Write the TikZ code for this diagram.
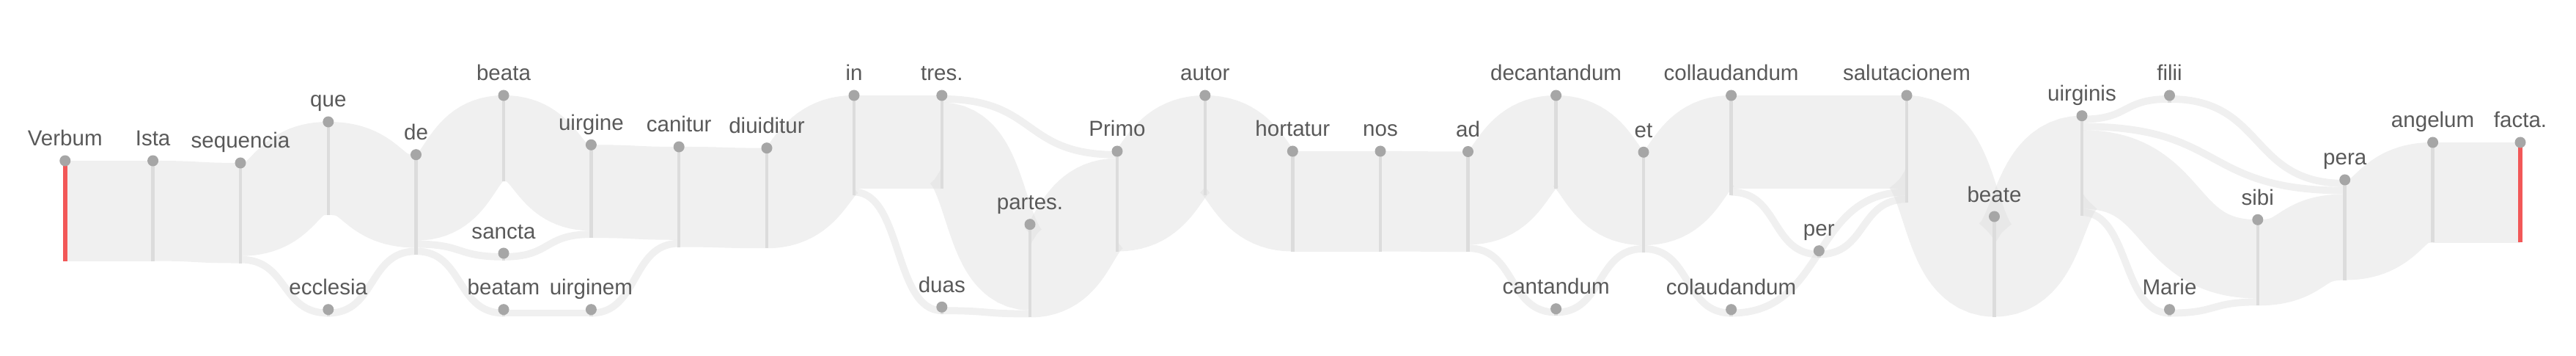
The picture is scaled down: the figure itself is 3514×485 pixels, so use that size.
\documentclass[tikz,border=0pt]{standalone}
\usepackage{fontspec}
\setmainfont{Liberation Sans}
\usetikzlibrary{calc}
\definecolor{barc}{HTML}{DCDCDC}
\definecolor{dotc}{HTML}{A6A6A6}
\definecolor{txtc}{HTML}{595959}
\definecolor{redc}{HTML}{F25858}
\definecolor{flowc}{HTML}{E1E1E1}
\pgfdeclarelayer{flows}
\pgfdeclarelayer{bars}
\pgfsetlayers{flows,bars,main}
\tikzset{
  dotst/.style={circle, fill=dotc, inner sep=0pt, minimum size=0.15cm},
  lblst/.style={text=txtc, font=\fontsize{8.4}{10}\selectfont, inner sep=0pt},
  barst/.style={draw=barc, line width=0.045cm},
  redbar/.style={draw=redc, line width=0.055cm},
  flowst/.style={draw=flowc, draw opacity=0.5},
}
% name, x, y(top), units, label, bar style
\newcommand\wnode[6]{%
  \node[dotst] (#1) at (#2,#3) {};
  \begin{pgfonlayer}{bars}\draw[#6] (#1.center) -- ++(0,{#4*9.75});\end{pgfonlayer}
  \node[lblst, anchor=base] (#1-l) at ($(#1)+(0,-20)$) {#5};
}
% source, source offset, target, target offset, units
\newcommand\flw[5]{%
  \begin{pgfonlayer}{flows}
  \draw[flowst, line width=#5*0.0975cm]
    let \p1=($(#1)+(0,{(#2+#5/2)*9.75})$), \p2=($(#3)+(0,{(#4+#5/2)*9.75})$) in
    (\p1) .. controls ({\x1+0.55*(\x2-\x1)},\y1) and ({\x2-0.55*(\x2-\x1)},\y2) .. (\p2);
  \end{pgfonlayer}
}
\begin{document}
\begin{tikzpicture}[x=0.01cm,y=-0.01cm]
\useasboundingbox (0,0) rectangle (3514,485);
\wnode{Verbum}{88.8}{219}{14}{Verbum}{redbar}
\wnode{Ista}{208.6}{219}{14}{Ista}{barst}
\wnode{sequencia}{328}{222}{14}{sequencia}{barst}
\wnode{que}{447.8}{166}{13}{que}{barst}
\wnode{ecclesia}{447.8}{421.7}{1}{ecclesia}{barst}
\wnode{de}{567.5}{210.7}{14}{de}{barst}
\wnode{beata}{687}{130}{12}{beata}{barst}
\wnode{sancta}{687}{345}{1}{sancta}{barst}
\wnode{beatam}{687}{421.7}{1}{beatam}{barst}
\wnode{uirgine}{806.4}{197.3}{13}{uirgine}{barst}
\wnode{uirginem}{806.4}{421.7}{1}{uirginem}{barst}
\wnode{canitur}{926.2}{200}{14}{canitur}{barst}
\wnode{diuiditur}{1046}{201.7}{14}{diuiditur}{barst}
\wnode{in}{1165}{130}{14}{in}{barst}
\wnode{tres}{1284.8}{130}{13}{tres.}{barst}
\wnode{duas}{1284.8}{418.3}{1}{duas}{barst}
\wnode{partes}{1405}{305.7}{13}{partes.}{barst}
\wnode{Primo}{1524}{206}{14}{Primo}{barst}
\wnode{autor}{1643.8}{130}{14}{autor}{barst}
\wnode{hortatur}{1763.3}{206}{14}{hortatur}{barst}
\wnode{nos}{1883}{206}{14}{nos}{barst}
\wnode{ad}{2002.5}{206.5}{14}{ad}{barst}
\wnode{decantandum}{2122.6}{130}{13}{decantandum}{barst}
\wnode{cantandum}{2122.6}{420.7}{1}{cantandum}{barst}
\wnode{et}{2242}{207.3}{14}{et}{barst}
\wnode{collaudandum}{2361.6}{130}{14}{collaudandum}{barst}
\wnode{colaudandum}{2361.6}{421.7}{1}{colaudandum}{barst}
\wnode{per}{2481.3}{341.7}{1}{per}{barst}
\wnode{salutacionem}{2601}{130}{15}{salutacionem}{barst}
\wnode{beate}{2720.5}{295}{14}{beate}{barst}
\wnode{uirginis}{2840}{157.7}{14}{uirginis}{barst}
\wnode{filii}{2959.5}{130}{1}{filii}{barst}
\wnode{Marie}{2959.5}{421.7}{1}{Marie}{barst}
\wnode{sibi}{3079.8}{299.3}{12}{sibi}{barst}
\wnode{pera}{3198.7}{245}{14}{pera}{barst}
\wnode{angelum}{3318.6}{194}{14}{angelum}{barst}
\wnode{facta}{3438}{194}{14}{facta.}{redbar}
\flw{Verbum}{0}{Ista}{0}{14}
\flw{Ista}{0}{sequencia}{0}{14}
\flw{sequencia}{0}{que}{0}{13}
\flw{sequencia}{13}{ecclesia}{0}{1}
\flw{que}{0}{de}{0}{13}
\flw{ecclesia}{0}{de}{13}{1}
\flw{de}{0}{beata}{0}{12}
\flw{de}{12}{sancta}{0}{1}
\flw{de}{13}{beatam}{0}{1}
\flw{beata}{0}{uirgine}{0}{12}
\flw{sancta}{0}{uirgine}{12}{1}
\flw{beatam}{0}{uirginem}{0}{1}
\flw{uirgine}{0}{canitur}{0}{13}
\flw{uirginem}{0}{canitur}{13}{1}
\flw{canitur}{0}{diuiditur}{0}{14}
\flw{diuiditur}{0}{in}{0}{14}
\flw{in}{0}{tres}{0}{13}
\flw{in}{13}{duas}{0}{1}
\flw{tres}{0}{Primo}{0}{1}
\flw{tres}{1}{partes}{0}{12}
\flw{duas}{0}{partes}{12}{1}
\flw{partes}{0}{Primo}{1}{13}
\flw{Primo}{0}{autor}{0}{14}
\flw{autor}{0}{hortatur}{0}{14}
\flw{hortatur}{0}{nos}{0}{14}
\flw{nos}{0}{ad}{0}{14}
\flw{ad}{0}{decantandum}{0}{13}
\flw{ad}{13}{cantandum}{0}{1}
\flw{decantandum}{0}{et}{0}{13}
\flw{cantandum}{0}{et}{13}{1}
\flw{et}{0}{collaudandum}{0}{13}
\flw{et}{13}{colaudandum}{0}{1}
\flw{collaudandum}{0}{salutacionem}{0}{13}
\flw{collaudandum}{13}{per}{0}{1}
\flw{colaudandum}{0}{salutacionem}{13}{1}
\flw{per}{0}{salutacionem}{14}{1}
\flw{salutacionem}{0}{beate}{0}{14}
\flw{beate}{0}{uirginis}{0}{14}
\flw{uirginis}{0}{filii}{0}{1}
\flw{uirginis}{1}{pera}{1}{1}
\flw{uirginis}{2}{sibi}{0}{11}
\flw{uirginis}{13}{Marie}{0}{1}
\flw{filii}{0}{pera}{0}{1}
\flw{Marie}{0}{sibi}{11}{1}
\flw{sibi}{0}{pera}{2}{12}
\flw{pera}{0}{angelum}{0}{14}
\flw{angelum}{0}{facta}{0}{14}
\end{tikzpicture}
\end{document}
